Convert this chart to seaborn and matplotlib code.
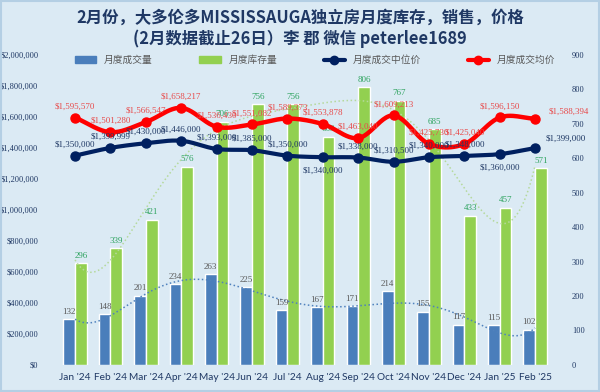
import numpy as np
import pandas as pd
import seaborn as sns
import matplotlib.pyplot as plt
from matplotlib.patches import Patch, Rectangle
from matplotlib.lines import Line2D
from matplotlib.ticker import FuncFormatter

months = ["Jan '24", "Feb '24", "Mar '24", "Apr '24", "May '24", "Jun '24", "Jul '24",
          "Aug '24", "Sep '24", "Oct '24", "Nov '24", "Dec '24", "Jan '25", "Feb '25"]
sales = [132, 148, 201, 234, 263, 225, 159, 167, 171, 214, 155, 117, 115, 102]
inventory = [296, 339, 421, 576, 706, 756, 756, 663, 806, 767, 685, 433, 457, 571]
median_price = [1350000, 1399999, 1430000, 1446000, 1393000, 1385000, 1350000,
                1340000, 1338000, 1310500, 1340000, 1348000, 1360000, 1399000]
avg_price = [1595570, 1501280, 1566547, 1658217, 1536430, 1551082, 1589373,
             1553878, 1463040, 1609213, 1425730, 1425040, 1596150, 1588394]

NAVY = '#002060'
RED = '#ff0000'
BLUE = '#4a7ebb'
GREEN = '#92d050'
BG = '#dbeaf4'


def smooth(vals, n=24):
    # Catmull-Rom curve through the points, like Excel's smoothed line
    p = np.asarray(vals, float)
    P = np.concatenate([[2 * p[0] - p[1]], p, [2 * p[-1] - p[-2]]])
    xs, ys = [], []
    t = np.linspace(0, 1, n, endpoint=False)
    for i in range(len(p) - 1):
        p0, p1, p2, p3 = P[i:i + 4]
        ys.append(0.5 * (2 * p1 + (-p0 + p2) * t + (2 * p0 - 5 * p1 + 4 * p2 - p3) * t ** 2
                         + (-p0 + 3 * p1 - 3 * p2 + p3) * t ** 3))
        xs.append(i + t)
    xs.append([len(p) - 1])
    ys.append([p[-1]])
    return np.concatenate(xs), np.concatenate(ys)


sns.set_theme(style='white')
plt.rcParams['font.family'] = ['Noto Sans CJK SC', 'DejaVu Sans']

fig = plt.figure(figsize=(6, 3.92), dpi=100, facecolor=BG)
fig.patches.append(Rectangle((0.002, 0.003), 0.996, 0.994, transform=fig.transFigure,
                             fill=False, edgecolor='#b4cfe4', linewidth=1.5))
ax = fig.add_axes([0.072, 0.069, 0.873, 0.791])
ax.set_facecolor(BG)

# bars (right axis)
bars = pd.DataFrame({
    'month': months * 2,
    'series': ['月度成交量'] * len(months) + ['月度库存量'] * len(months),
    'value': sales + inventory,
})
sns.barplot(data=bars, x='month', y='value', hue='series', palette=[BLUE, GREEN],
            width=0.66, saturation=1, ax=ax, legend=False)

x = np.arange(len(months))
for i in x:
    ax.text(i - 0.165, sales[i] + 10, str(sales[i]), ha='center', va='bottom',
            fontsize=6.5, color='#595959', family='Liberation Serif')
    ax.text(i + 0.165, inventory[i] + 10, str(inventory[i]), ha='center', va='bottom',
            fontsize=6.5, color='#2ea35f', family='Liberation Serif')

# dotted trendlines
xt = np.linspace(0, 13, 300)
ax.plot(xt, np.polyval(np.polyfit(x, sales, 6), xt), ':', color='#4f81bd', lw=1.1)
ax.plot(xt, np.polyval(np.polyfit(x, inventory, 6), xt), ':', color='#b5d99c', lw=1.1)

ax.set_ylim(0, 900)
ax.set_xlim(-0.9, 13.9)
ax.set_yticks(range(0, 901, 100))
ax.set_xlabel('')
ax.set_ylabel('')

# price lines (left axis)
ax2 = ax.twinx()
ax.yaxis.tick_right()
ax2.yaxis.tick_left()
xs, ys = smooth(median_price)
sns.lineplot(x=xs, y=ys, sort=False, color=NAVY, lw=3, ax=ax2)
ax2.plot(x, median_price, 'o', color=NAVY, ms=6.5)
xs, ys = smooth(avg_price)
sns.lineplot(x=xs, y=ys, sort=False, color=RED, lw=3.2, ax=ax2)
ax2.plot(x, avg_price, 'o', color=RED, ms=6.5)

med_off = {7: (0, -13), 12: (0, -13), 13: (22, 4)}
avg_off = {13: (24, 2)}
for i in x:
    dx, dy = med_off.get(i, (0, 5))
    ax2.annotate(f'${median_price[i]:,}', (i, median_price[i]), xytext=(dx, dy),
                 textcoords='offset points', ha='center', va='bottom', fontsize=6.5,
                 color='#1f3864', family='Liberation Serif')
    dx, dy = avg_off.get(i, (0, 5))
    ax2.annotate(f'${avg_price[i]:,}', (i, avg_price[i]), xytext=(dx, dy),
                 textcoords='offset points', ha='center', va='bottom', fontsize=6.5,
                 color='#e84a4a', family='Liberation Serif')

ax2.set_ylim(0, 2000000)
ax2.set_yticks(range(0, 2000001, 200000))
ax2.yaxis.set_major_formatter(FuncFormatter(lambda v, _: f'${v:,.0f}'))

for a in (ax, ax2):
    for s in a.spines.values():
        s.set_visible(False)
    a.tick_params(length=0)
for lab in ax.get_yticklabels() + ax2.get_yticklabels():
    lab.set_fontsize(6)
    lab.set_color('#1f3864')
    lab.set_family('Liberation Serif')
for lab in ax.get_xticklabels():
    lab.set_fontsize(7.3)
    lab.set_color('#1f3864')
    lab.set_family('Lato')
ax.tick_params(axis='x', pad=6)

handles = [Patch(color=BLUE), Patch(color=GREEN),
           Line2D([], [], color=NAVY, lw=3, marker='o', ms=6),
           Line2D([], [], color=RED, lw=3, marker='o', ms=6)]
labels = ['月度成交量', '月度库存量', '月度成交中位价', '月度成交均价']
fig.legend(handles, labels, loc='center', bbox_to_anchor=(0.525, 0.847), ncol=4,
           frameon=False, fontsize=7, columnspacing=4.8, handlelength=2.2,
           labelcolor='#595959')

fig.text(0.5, 0.955, '2月份，大多伦多MISSISSAUGA独立房月度库存，销售，价格',
         ha='center', va='center', fontsize=11.8, fontweight='bold', color='#1f3864')
fig.text(0.5, 0.9, '(2月数据截止26日）李 郡 微信 peterlee1689',
         ha='center', va='center', fontsize=11.8, fontweight='bold', color='#1f3864')

fig.savefig('out.png', dpi=100, facecolor=BG)
